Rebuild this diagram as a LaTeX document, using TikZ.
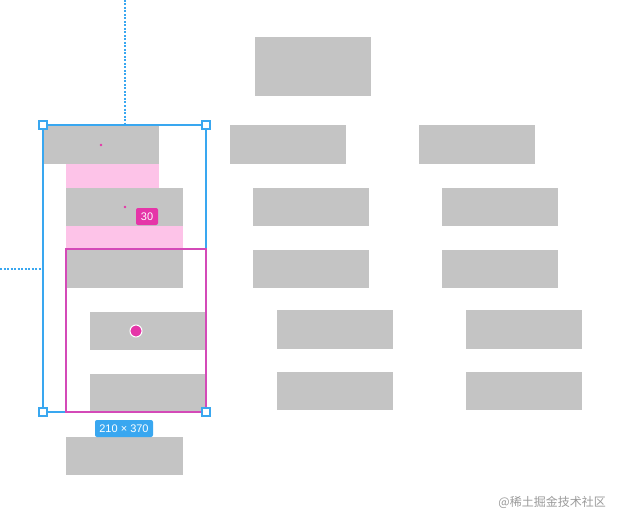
\documentclass[tikz,border=0pt]{standalone}
\usepackage{fontspec}
\setmainfont{Liberation Sans}
\newfontfamily\cjk{Noto Sans CJK SC}
\definecolor{boxgray}{HTML}{C4C4C4}
\definecolor{padpink}{HTML}{FDC3E8}
\definecolor{mag}{HTML}{E535A8}
\definecolor{magline}{HTML}{D44AB8}
\definecolor{selblue}{HTML}{39A7F0}
\definecolor{wm}{HTML}{9A9A9A}
\begin{document}
\begin{tikzpicture}[x=1pt,y=-1pt,
  gbox/.style={fill=boxgray,draw=none},
  pad/.style={fill=padpink,draw=none},
  handle/.style={draw=selblue,fill=white,line width=1.2pt,minimum size=8pt,inner sep=0pt},
  guide/.style={color=selblue,dash pattern=on 2pt off 1.5pt,line width=1.3pt},
  tag/.style={rounded corners=2pt,text=white,font=\fontsize{11}{12}\selectfont,inner sep=2.5pt,minimum height=17pt}]
\useasboundingbox (0,0) rectangle (620,524);
% left column
\fill[gbox] (43,125) rectangle (159,164);
\fill[pad] (66,164) rectangle (159,188);
\fill[gbox] (66,188) rectangle (183,226);
\fill[pad] (66,226) rectangle (183,250);
\fill[gbox] (66,250) rectangle (183,288);
\fill[gbox] (90,312) rectangle (206,350);
\fill[gbox] (90,374) rectangle (206,412);
\fill[gbox] (66,437) rectangle (183,475);
% middle/right
\fill[gbox] (255,37) rectangle (371,96);
\fill[gbox] (230,125) rectangle (346,164);
\fill[gbox] (419,125) rectangle (535,164);
\fill[gbox] (253,188) rectangle (369,226);
\fill[gbox] (253,250) rectangle (369,288);
\fill[gbox] (277,310) rectangle (393,349);
\fill[gbox] (277,372) rectangle (393,410);
\fill[gbox] (442,188) rectangle (558,226);
\fill[gbox] (442,250) rectangle (558,288);
\fill[gbox] (466,310) rectangle (582,349);
\fill[gbox] (466,372) rectangle (582,410);
% guides
\coordinate (gtop) at (125,0);
\coordinate (gleft) at (0,269);
\coordinate (selT) at (125,125);
\coordinate (selL) at (43,269);
\draw[guide] (gtop) -- (selT);
\draw[guide] (gleft) -- (selL);
% selection
\draw[selblue,line width=1.5pt] (43,125) rectangle (206,412);
% magenta rect
\draw[magline,line width=1.5pt] (66,249) rectangle (206,412);
\node[handle] (h1) at (43,125) {};
\node[handle] (h2) at (206,125) {};
\node[handle] (h3) at (43,412) {};
\node[handle] (h4) at (206,412) {};
% dots
\fill[mag] (101,145) circle (1.3pt);
\fill[mag] (125,207) circle (1.3pt);
\filldraw[fill=mag,draw=white,line width=1pt] (136,331) circle (6pt);
% tags
\node[tag,fill=mag,minimum width=22pt] (t30) at (147,216.5) {30};
\node[tag,fill=selblue,minimum width=58pt] (tsize) at (124,428.5) {210 × 370};
\node[text=wm,font=\cjk\fontsize{12}{13}\selectfont,anchor=east,inner sep=0pt] (wmark) at (606,502) {@稀土掘金技术社区};
\end{tikzpicture}
\end{document}
